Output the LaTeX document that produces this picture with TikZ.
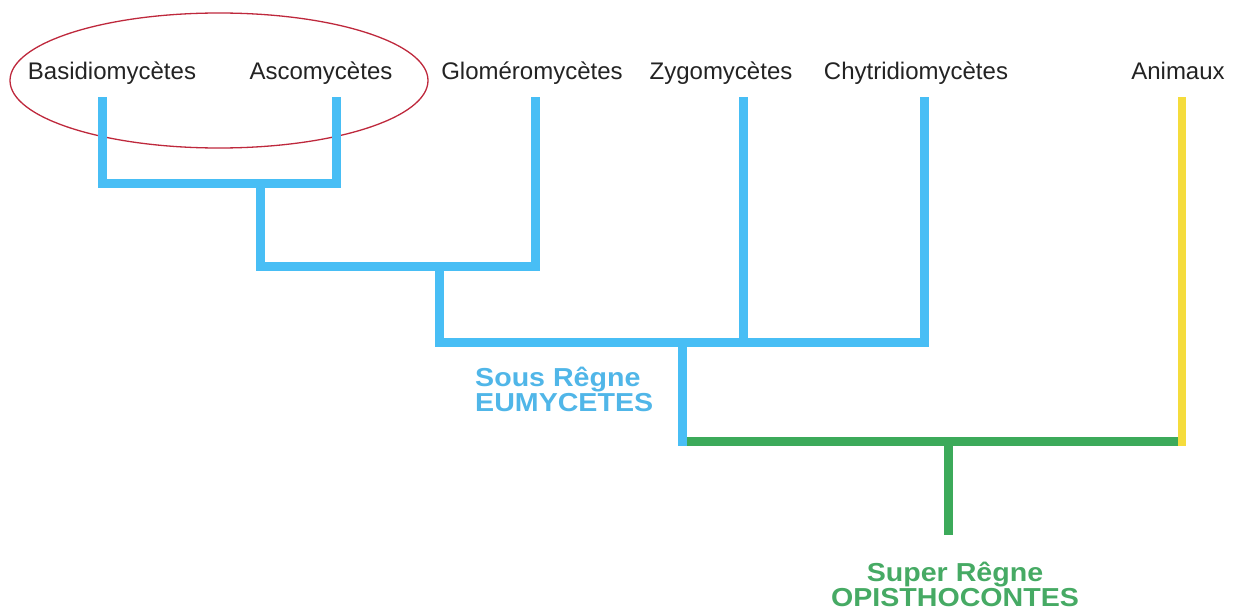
\documentclass[tikz,border=0pt]{standalone}
\usepackage{fontspec}
\setmainfont{Liberation Sans}
\usetikzlibrary{shapes.geometric}
\definecolor{fblue}{RGB}{72,190,245}
\definecolor{fgreen}{RGB}{60,170,90}
\definecolor{fyellow}{RGB}{245,220,60}
\definecolor{fred}{RGB}{190,40,60}
\definecolor{txt}{RGB}{35,35,35}
\definecolor{bluetxt}{RGB}{80,182,232}
\definecolor{greentxt}{RGB}{70,170,100}
\begin{document}
\begin{tikzpicture}[x=1pt,y=-1pt,
  leaf/.style={anchor=base, inner sep=0pt, text=txt, font=\fontsize{24}{28}\selectfont},
  grouplabel/.style={inner sep=0pt, font=\bfseries\fontsize{26}{30}\selectfont},
  branch/.style={line width=9pt, draw=fblue, line join=miter},
  gbranch/.style={line width=9pt, draw=fgreen, line join=miter},
  ybranch/.style={line width=8pt, draw=fyellow},
  clade/.style={draw=fred, line width=1.3pt, ellipse, inner sep=0pt}]
\useasboundingbox (0,0) rectangle (1245,610);

% leaf labels
\node[leaf] (basid) at (112,79) {Basidiomycètes};
\node[leaf] (asco) at (321,79) {Ascomycètes};
\node[leaf] (glom) at (532,79) {Gloméromycètes};
\node[leaf] (zygo) at (721,79) {Zygomycètes};
\node[leaf] (chyt) at (916,79) {Chytridiomycètes};
\node[leaf] (anim) at (1178,79) {Animaux};

% highlighted clade
\node[clade, minimum width=418pt, minimum height=135pt] (dikarya) at (219,80.5) {};

% branch coordinates
\coordinate (tb) at (102,97);
\coordinate (ta) at (336,97);
\coordinate (tg) at (535,97);
\coordinate (tz) at (743,97);
\coordinate (tc) at (924,97);
\coordinate (tan) at (1182,97);
\coordinate (j1) at (260,183);
\coordinate (j2) at (439,266);
\coordinate (j3) at (682,342);
\coordinate (j4) at (682,441);
\coordinate (j5) at (948,441);
\coordinate (ya) at (1182,441);
\coordinate (root) at (948,535);

% green root
\draw[gbranch] (j4) -- (j5) -- (ya);
\draw[gbranch] (j5) -- (root);

% fungi tree
\draw[branch] (tb) |- (j1) -| (ta);
\draw[branch] (j1) |- (j2) -| (tg);
\draw[branch] (j2) |- (j3) -| (tc);
\draw[branch] (tz) -- (tz |- j3);
\draw[branch] (j3) -- ([yshift=-4.5pt]j4);

% animals
\draw[ybranch] (tan) -- ([yshift=-4.5pt]ya);

% group labels
\node[grouplabel, text=bluetxt, anchor=base west] (sous) at (475,386) {\scalebox{1.1}[1]{Sous Rêgne}};
\node[grouplabel, text=bluetxt, anchor=base west] (eumy) at (475,411) {\scalebox{1.1}[1]{EUMYCETES}};
\node[grouplabel, text=greentxt, anchor=base] (super) at (955,581) {\scalebox{1.1}[1]{Super Rêgne}};
\node[grouplabel, text=greentxt, anchor=base] (opis) at (955,606) {\scalebox{1.1}[1]{OPISTHOCONTES}};
\end{tikzpicture}
\end{document}
